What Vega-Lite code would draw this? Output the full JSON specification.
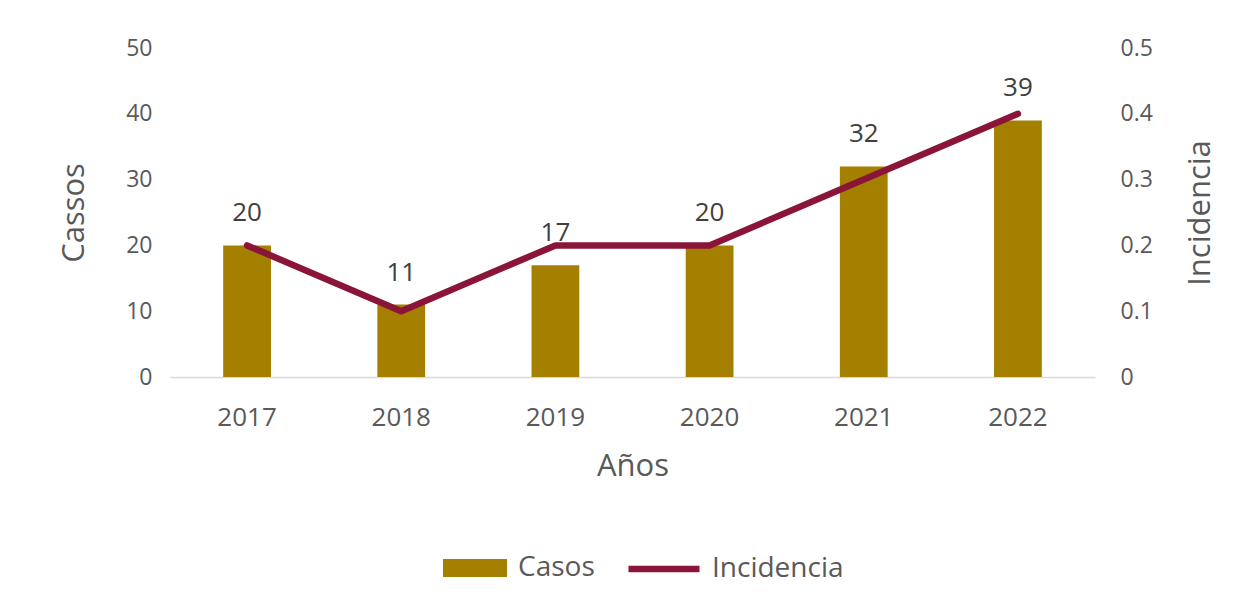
{
  "$schema": "https://vega.github.io/schema/vega-lite/v6.json",
  "autosize": {"type": "none"},
  "padding": {"left": 170, "top": 48, "right": 157, "bottom": 239},
  "width": 925,
  "height": 329,
  "background": "white",
  "config": {
    "font": "Open Sans",
    "view": {"stroke": null},
    "axis": {"grid": false, "labelColor": "#595959", "titleColor": "#595959", "titleFontWeight": "normal", "labelFont": "Open Sans", "titleFont": "Open Sans", "labelOverlap": false},
    "legend": {"labelColor": "#595959", "labelFont": "Open Sans"}
  },
  "data": {
    "values": [
      {"anio": "2017", "casos": 20, "incidencia": 0.2},
      {"anio": "2018", "casos": 11, "incidencia": 0.1},
      {"anio": "2019", "casos": 17, "incidencia": 0.2},
      {"anio": "2020", "casos": 20, "incidencia": 0.2},
      {"anio": "2021", "casos": 32, "incidencia": 0.3},
      {"anio": "2022", "casos": 39, "incidencia": 0.4}
    ]
  },
  "encoding": {
    "x": {
      "field": "anio", "type": "nominal",
      "scale": {"paddingInner": 0.69, "paddingOuter": 0.345},
      "axis": {"title": "Años", "labelAngle": 0, "labelFontSize": 26, "labelPadding": 27, "titleFontSize": 31, "titlePadding": 21, "ticks": false, "domainColor": "#d9d9d9", "domainWidth": 1.5}
    }
  },
  "layer": [
    {
      "encoding": {
        "y": {"field": "casos", "type": "quantitative", "scale": {"domain": [0, 50]},
          "axis": {"title": "Cassos", "values": [0,10,20,30,40,50], "domain": false, "ticks": false, "labelFontSize": 23, "labelPadding": 18, "titleFontSize": 31, "titlePadding": 35}}
      },
      "layer": [
        {
          "mark": {"type": "bar", "color": "#A57F00"},
          "encoding": {
            "fill": {"datum": "Casos", "type": "nominal",
              "scale": {"domain": ["Casos"], "range": ["#A57F00"]},
              "legend": {"title": null, "orient": "none", "legendX": 273, "legendY": 488, "labelFontSize": 28, "symbolType": "M-1,-0.28H1V0.28H-1Z", "symbolSize": 4096, "symbolStrokeWidth": 0, "labelOffset": 11}}
          }
        },
        {
          "mark": {"type": "text", "baseline": "middle", "dy": -32, "fontSize": 26, "color": "#404040"},
          "encoding": {
            "text": {"field": "casos", "type": "quantitative"}
          }
        }
      ]
    },
    {
      "mark": {"type": "line", "strokeWidth": 6.5, "strokeCap": "round", "strokeJoin": "round"},
      "encoding": {
        "y": {"field": "incidencia", "type": "quantitative", "scale": {"domain": [0, 0.5]},
          "axis": {"title": "Incidencia", "orient": "right", "values": [0,0.1,0.2,0.3,0.4,0.5], "format": "~g", "domain": false, "ticks": false, "labelFontSize": 23, "labelPadding": 25, "titleFontSize": 31, "titlePadding": 64, "titleAngle": 270}},
        "stroke": {"datum": "Incidencia", "type": "nominal",
          "scale": {"domain": ["Incidencia"], "range": ["#8A1538"]},
          "legend": {"title": null, "orient": "none", "legendX": 455, "legendY": 482, "labelFontSize": 28, "symbolType": "M-1,0H1", "symbolSize": 5041, "symbolStrokeWidth": 6.5, "labelOffset": 9}}
      }
    }
  ],
  "resolve": {"scale": {"y": "independent", "fill": "independent", "stroke": "independent"}, "legend": {"fill": "independent", "stroke": "independent"}}
}
